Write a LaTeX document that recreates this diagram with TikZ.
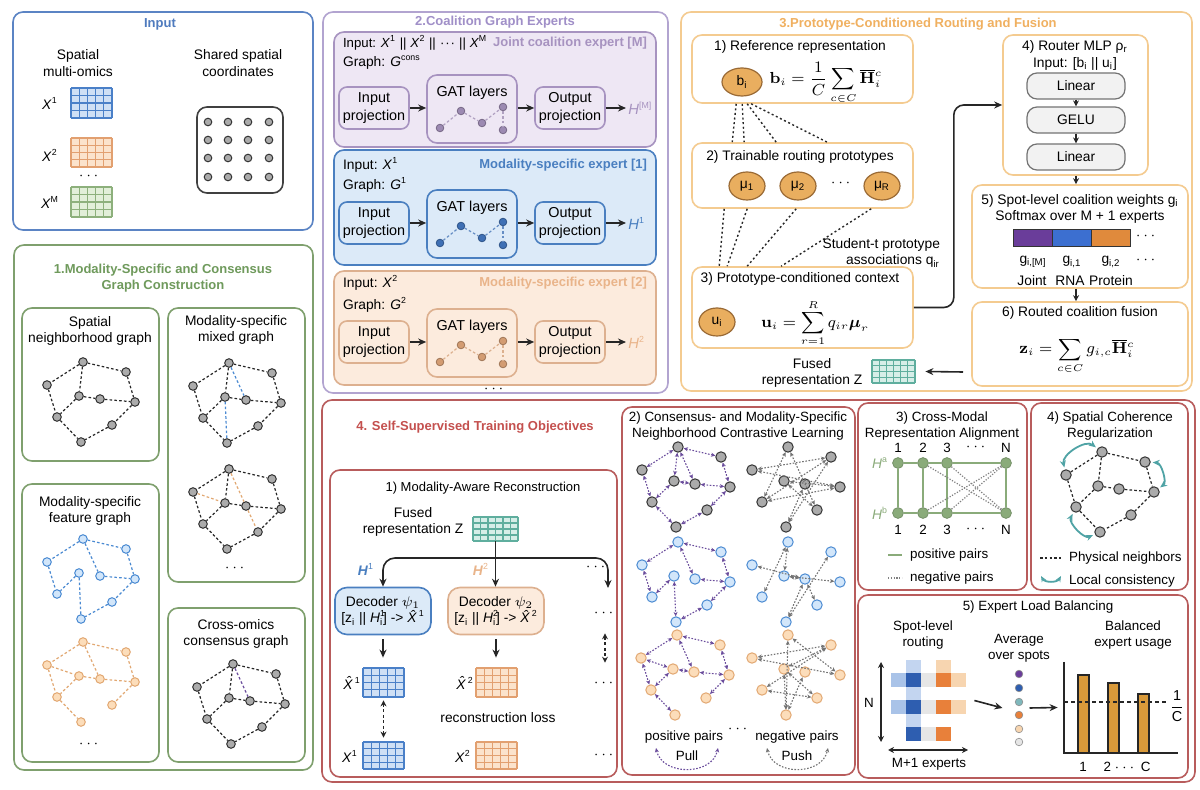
\documentclass[tikz,border=0pt]{standalone}
\usepackage{amsmath,amssymb}
\usepackage[no-math]{fontspec}
\setmainfont{Liberation Sans}
\usetikzlibrary{arrows.meta,calc,fit,shapes.geometric}

\definecolor{cInp}{HTML}{5B84C4}
\definecolor{cInpT}{HTML}{4F7BBE}
\definecolor{cGrn}{HTML}{7FA06E}
\definecolor{cGrnT}{HTML}{6F9A5C}
\definecolor{cPur}{HTML}{B2A4D0}
\definecolor{cPurT}{HTML}{A08FC8}
\definecolor{cJf}{HTML}{EEE7F4}
\definecolor{cJd}{HTML}{A793C0}
\definecolor{cJn}{HTML}{9C8AB2}
\definecolor{cBf}{HTML}{DCEAF8}
\definecolor{cBd}{HTML}{4A7FC0}
\definecolor{cBn}{HTML}{3F70B5}
\definecolor{cOf}{HTML}{FCEBDD}
\definecolor{cOd}{HTML}{DDB08F}
\definecolor{cOt}{HTML}{E9B48A}
\definecolor{cOn}{HTML}{D39C72}
\definecolor{cP3}{HTML}{F4CB90}
\definecolor{cP3T}{HTML}{F0B060}
\definecolor{cCirc}{HTML}{E9AE5F}
\definecolor{cCircD}{HTML}{9A6A35}
\definecolor{cP4}{HTML}{B85C5C}
\definecolor{cP4T}{HTML}{C4504E}
\definecolor{cGrayN}{HTML}{ABABAB}
\definecolor{cBlueN}{HTML}{D2E6FA}
\definecolor{cBlueND}{HTML}{4A8AD2}
\definecolor{cOrN}{HTML}{FCDDBA}
\definecolor{cOrND}{HTML}{E2A872}
\definecolor{gBL}{HTML}{CFE0F5}
\definecolor{gBD}{HTML}{4A80C8}
\definecolor{gOL}{HTML}{FBE3CC}
\definecolor{gOD}{HTML}{E2A070}
\definecolor{gGL}{HTML}{E2EFD9}
\definecolor{gGD}{HTML}{8DB07C}
\definecolor{gTL}{HTML}{D6EEE8}
\definecolor{gTD}{HTML}{5FAE9E}
\definecolor{cPos}{HTML}{6A4C9C}
\definecolor{cAl}{HTML}{8AAB7A}
\definecolor{cTealA}{HTML}{4FA3A5}
\definecolor{cTealD}{HTML}{7FB8BC}
\definecolor{hLB}{HTML}{A9C3E8}
\definecolor{hLB2}{HTML}{C3D5F0}
\definecolor{hDB}{HTML}{2E5EB0}
\definecolor{hLG}{HTML}{E6E6E6}
\definecolor{hOR}{HTML}{E8803A}
\definecolor{hLO}{HTML}{F7D5B0}
\definecolor{cBar}{HTML}{D99A3A}
\definecolor{wP}{HTML}{6A3D9A}
\definecolor{wB}{HTML}{3C6FD0}
\definecolor{wO}{HTML}{E08A3C}

\newcommand{\fs}{\fontsize{6.9}{8.4}\selectfont}
\newcommand{\fsm}{\fontsize{6.7}{8}\selectfont}
\newcommand{\fmath}{\fontsize{7.6}{9}\selectfont}
\newcommand{\sps}[1]{\textsuperscript{\fontsize{4.4}{5}\selectfont #1}}
\newcommand{\mdots}{\kern0.3pt·\kern0.4pt·\kern0.4pt·\kern0.3pt}
\newcommand{\bx}[6]{\node[fit={(#2,#3) (#4,#5)}, inner sep=0pt, #6] (#1) {};}
\newcommand{\dg}[9]{%
  \fill[#8] (#2,#3) rectangle ({#2+#4},{#3+#5});
  \foreach \k in {0,...,#6}{\draw[#9,line width=0.6pt] ({#2+\k*#4/#6},#3) -- ({#2+\k*#4/#6},{#3+#5});}
  \foreach \k in {0,...,#7}{\draw[#9,line width=0.6pt] (#2,{#3+\k*#5/#7}) -- ({#2+#4},{#3+\k*#5/#7});}
  \node[inner sep=0pt,minimum width={#4*0.5pt},minimum height={#5*0.5pt}] (#1) at ({#2+#4/2},{#3+#5/2}) {};}
\newcommand{\gnodes}[4]{%
  \foreach \i/\dx/\dy in {1/0/0,2/43/10,3/-36/23,4/-4/34,5/17/37,6/52/40,7/-26/55,8/29/63,9/-2/80}
    {\node[#4] (#1\i) at ({#2+\dx},{#3+\dy}) {};}}
\newcommand{\gedges}[3]{\foreach \a/\b in {#3}{\draw[#2] (#1\a) -- (#1\b);}}
\newcommand{\expert}[7]{%
  \node[pbox, fill=#3, draw=#4] (#1in) at (374,#2) {Input\\projection};
  \node[rounded corners=5pt, line width=0.8pt, minimum width=45pt, minimum height=34pt, fill=#3, draw=#4] (#1gat) at (472,{#2+1}) {};
  \node[font=\fontsize{7.2}{8.6}\selectfont] (#1gl) at (472,{#2-15}) {GAT layers};
  \node[pbox, fill=#3, draw=#4] (#1out) at (570,#2) {Output\\projection};
  \node[text=#7, anchor=west, inner sep=1pt, font=\fontsize{7.4}{8.6}\selectfont] (#1H) at (626,#2) {#6};
  \foreach \n/\dx/\dy in {a/-32/19,b/-11/2,c/10/14,d/31/-2,e/31/21}
    {\node[circle, inner sep=0pt, minimum size=3.8pt, fill=#5, draw=#5!75!black, line width=0.4pt] (#1\n) at ({472+\dx},{#2+1+\dy}) {};}
  \foreach \a/\b in {a/b,b/c,c/d,d/e}{\draw[#5!80, line width=0.6pt, dash pattern=on 1.3pt off 1.1pt] (#1\a) -- (#1\b);}
  \draw[conn] (#1in.east) -- (#1in.east -| #1gat.west);
  \draw[conn] (#1out.west -| #1gat.east) -- (#1out.west);
  \draw[conn] (#1out.east) -- (#1H.west);
}

\begin{document}
\begin{tikzpicture}[x=0.5pt, y=-0.5pt, font=\fs,
  rb/.style={rounded corners=5pt, line width=0.8pt},
  ttl/.style={font=\fontsize{6.5}{8}\selectfont\bfseries},
  etl/.style={anchor=east, font=\fontsize{6.5}{8}\selectfont\bfseries},
  gnode/.style={circle, draw=black!80, fill=cGrayN, line width=0.5pt, inner sep=0pt, minimum size=4.3pt},
  bnode/.style={circle, draw=cBlueND, fill=cBlueN, line width=0.5pt, inner sep=0pt, minimum size=4.3pt},
  onode/.style={circle, draw=cOrND, fill=cOrN, line width=0.5pt, inner sep=0pt, minimum size=4.3pt},
  kedge/.style={black!85, line width=0.6pt, dash pattern=on 1.3pt off 1.1pt},
  bedge/.style={cBlueND, line width=0.6pt, dash pattern=on 1.3pt off 1.1pt},
  oedge/.style={cOrND, line width=0.6pt, dash pattern=on 1.3pt off 1.1pt},
  pedge/.style={cPos, line width=0.6pt, dash pattern=on 1.3pt off 1.1pt},
  conn/.style={black!85, line width=0.8pt, -{Stealth[length=4pt,width=3.5pt]}},
  sconn/.style={black!85, line width=0.7pt, -{Stealth[length=3pt,width=3pt]}},
  dconn/.style={black!85, line width=0.7pt, dash pattern=on 1.5pt off 1.2pt, {Stealth[length=3pt,width=3pt]}-{Stealth[length=3pt,width=3pt]}},
  pbox/.style={rounded corners=4pt, line width=0.8pt, minimum width=35pt, minimum height=21pt, align=center, inner sep=1pt, font=\fontsize{7.2}{8.6}\selectfont},
  dec/.style={rounded corners=6pt, line width=0.8pt, minimum width=48pt, minimum height=23.5pt, align=center, inner sep=1pt},
  ocirc/.style={ellipse, fill=cCirc, draw=cCircD, line width=0.6pt, minimum width=18pt, minimum height=14pt, inner sep=0pt},
  fml/.style={font=\fmath, inner sep=0pt},
  dline/.style={black!85, line width=0.7pt, dash pattern=on 1pt off 1.3pt},
  mlp/.style={rounded corners=5pt, draw=black!55, fill=black!5, line width=0.6pt, minimum width=49pt, minimum height=13pt, inner sep=0pt},
  wbar/.style={draw=black!80, line width=0.5pt, minimum width=19.5pt, minimum height=8.5pt, inner sep=0pt},
  posA/.style={cPos, line width=0.55pt, dash pattern=on 0.8pt off 0.8pt, {Stealth[length=2.2pt,width=2pt]}-{Stealth[length=2.2pt,width=2pt]}},
  negA/.style={black!55, line width=0.55pt, dash pattern=on 0.8pt off 0.8pt, {Stealth[length=2.2pt,width=2pt]}-{Stealth[length=2.2pt,width=2pt]}},
  alnode/.style={circle, fill=cAl, draw=cAl!85!black, line width=0.4pt, minimum size=5.4pt, inner sep=0pt},
  alline/.style={cAl, line width=1pt},
  negline/.style={black!50, line width=0.6pt, dash pattern=on 0.6pt off 0.8pt},
  tarc/.style={cTealA, line width=0.9pt, {Stealth[length=3.5pt,width=3pt]}-{Stealth[length=3.5pt,width=3pt]}}
]
\fill[white] (0,0) rectangle (1200,790);
\useasboundingbox (0,0) rectangle (1200,790);

%% ---------------- Input ----------------
\bx{inp}{13}{12}{313}{230}{draw=cInp, rb}
\node[ttl, text=cInpT] (inpT) at (160,24) {Input};
\node[align=center] (inpA) at (78,63) {Spatial\\multi-omics};
\node[align=center] (inpB) at (238,63) {Shared spatial\\coordinates};
\node (inX1) at (50,103) {\textit{X}\sps{1}};
\dg{inG1}{71}{88}{41}{30}{5}{4}{gBL}{gBD}
\node (inX2) at (50,155) {\textit{X}\sps{2}};
\dg{inG2}{71}{138}{41}{29}{5}{4}{gOL}{gOD}
\node (inDots) at (90,176) {$\cdots$};
\node (inXM) at (50,202) {\textit{X}\sps{M}};
\dg{inGM}{71}{187}{41}{30}{5}{4}{gGL}{gGD}
\bx{coord}{197}{107}{283}{193}{draw=black!75, rounded corners=5pt, line width=0.8pt}
\foreach \cx [count=\ci] in {208,228,248,269}{
  \foreach \cy [count=\cj] in {122,140,158,177}{
    \node[gnode, minimum size=3.8pt] (cd\ci\cj) at (\cx,\cy) {};}}

%% ---------------- Panel 1 ----------------
\bx{p1}{14}{245}{313}{770}{draw=cGrn, rb}
\node[ttl, text=cGrnT, align=center] (p1T) at (163,278) {1.Modality-Specific and Consensus\\Graph Construction};
\bx{sA}{22}{308}{159}{461}{draw=cGrn, rb}
\node[align=center] (sAT) at (90,331) {Spatial\\neighborhood graph};
\gnodes{A}{83}{362}{gnode}
\gedges{A}{kedge}{1/2,1/3,1/4,2/6,3/7,4/5,5/6,4/7,6/8,8/9,7/9}

\bx{sB}{168}{308}{305}{582}{draw=cGrn, rb}
\node[align=center] (sBT) at (236,330) {Modality-specific\\mixed graph};
\gnodes{B}{229}{363}{gnode}
\gedges{B}{kedge}{1/2,1/3,1/4,2/6,3/7,4/5,5/6,4/7,6/8,8/9,7/9}
\gedges{B}{bedge}{1/5,4/9}
\gnodes{Bo}{229}{469}{gnode}
\gedges{Bo}{kedge}{1/2,1/3,1/4,2/6,3/7,4/5,5/6,4/7,6/8,8/9,7/9}
\gedges{Bo}{oedge}{3/4,1/5,5/8}
\node (sBd) at (236,568) {$\cdots$};

\bx{sC}{22}{484}{159}{762}{draw=cGrn, rb}
\node[align=center] (sCT) at (90,511) {Modality-specific\\feature graph};
\gnodes{Cb}{83}{539}{bnode}
\gedges{Cb}{bedge}{1/2,1/3,1/5,2/6,5/6,3/7,4/7,4/9,6/8,8/9}
\gnodes{Co}{83}{642}{onode}
\gedges{Co}{oedge}{1/2,1/3,1/5,2/6,3/4,4/5,5/6,3/7,4/7,7/9,6/8}
\node (sCd) at (90,744) {$\cdots$};

\bx{sD}{168}{608}{305}{762}{draw=cGrn, rb}
\node[align=center] (sDT) at (236,634) {Cross-omics\\consensus graph};
\gnodes{D}{233}{664}{gnode}
\gedges{D}{kedge}{1/2,1/3,1/4,2/6,3/7,4/5,5/6,4/7,6/8,8/9,7/9}
\gedges{D}{pedge}{1/5}

%% ---------------- Panel 2 ----------------
\bx{p2}{323}{12}{668}{393}{draw=cPur, rb}
\node[ttl, text=cPurT] (p2T) at (495,22) {2.Coalition Graph Experts};
\bx{jbox}{334}{32}{656}{147}{draw=cJd, fill=cJf, rb}
\node[anchor=west, font=\fontsize{6.6}{8}\selectfont] (jbI) at (336,43) {Input: \textit{X}\sps{1} || \textit{X}\sps{2} || \mdots{} || \textit{X}\sps{M}};
\node[etl, text=cJd] (jbT) at (654,43) {Joint coalition expert [M]};
\node[anchor=west] (jbG) at (336,63) {Graph: \textit{G}\sps{cons}};
\expert{j}{108}{cJf}{cJd}{cJn}{\textit{H}\sps{[M]}}{cJd}

\bx{bbox}{334}{150}{656}{265}{draw=cBd, fill=cBf, rb}
\node[anchor=west] (bbI) at (336,165) {Input: \textit{X}\sps{1}};
\node[etl, text=cBd] (bbT) at (654,165) {Modality-specific expert [1]};
\node[anchor=west] (bbG) at (336,185) {Graph: \textit{G}\sps{1}};
\expert{b}{223}{cBf}{cBd}{cBn}{\textit{H}\sps{1}}{cBd}

\bx{obox}{334}{271}{656}{385}{draw=cOd, fill=cOf, rb}
\node[anchor=west] (obI) at (336,283) {Input: \textit{X}\sps{2}};
\node[etl, text=cOt] (obT) at (654,283) {Modality-specific expert [2]};
\node[anchor=west] (obG) at (336,305) {Graph: \textit{G}\sps{2}};
\expert{o}{342}{cOf}{cOd}{cOn}{\textit{H}\sps{2}}{cOt}
\node (p2d) at (495,389) {$\cdots$};

%% ---------------- Panel 3 ----------------
\bx{p3}{681}{12}{1192}{391}{draw=cP3, rb}
\node[ttl, text=cP3T] (p3T) at (918,24) {3.Prototype-Conditioned Routing and Fusion};
\bx{r1}{692}{35}{913}{103}{draw=cP3, rb}
\node (r1T) at (800,47) {1) Reference representation};
\node[ocirc, minimum width=20pt] (bi) at (742,82) {b\textsubscript{i}};
\node[fml] (biF) at (826,83) {$\mathbf{b}_i=\dfrac{1}{C}\displaystyle\sum_{c\in C}\overline{\mathbf{H}}{}_i^{c}$};
\bx{r2}{692}{143}{913}{208}{draw=cP3, rb}
\node (r2T) at (800,157) {2) Trainable routing prototypes};
\node[ocirc] (mu1) at (747,186) {μ\textsubscript{1}};
\node[ocirc] (mu2) at (798,186) {μ\textsubscript{2}};
\node (mud) at (842,183) {$\cdots$};
\node[ocirc] (muR) at (882,186) {μ\textsubscript{R}};
\bx{r3}{692}{267}{913}{348}{draw=cP3, rb}
\node (r3T) at (800,279) {3) Prototype-conditioned context};
\node[ocirc] (ui) at (717,322) {u\textsubscript{i}};
\node[fml] (uiF) at (815,323) {$\mathbf{u}_i=\displaystyle\sum_{r=1}^{R} q_{ir}\boldsymbol{\mu}_r$};
\foreach \s/\t in {45/41,51/53,56/85,60/136}
  {\draw[dline] ([xshift=\s*0.5pt]r1.south west) -- ([xshift=\t*0.5pt]r2.north west);}
\foreach \s/\t in {33/28,56/36,105/56,180/90}
  {\draw[dline] ([xshift=\s*0.5pt]r2.south west) -- ([xshift=\t*0.5pt]r3.north west);}
\node[align=right, anchor=east] (stud) at (947,253) {Student-t prototype\\associations q\textsubscript{ir}};

\bx{r4}{1003}{35}{1148}{175}{draw=cP3, rb}
\node (r4T) at (1075,47) {4) Router MLP ρ\textsubscript{r}};
\node (r4I) at (1075,64) {Input: [b\textsubscript{i} || u\textsubscript{i}]};
\node[mlp] (l1) at (1076,86) {Linear};
\node[mlp] (gelu) at (1076,120) {GELU};
\node[mlp] (l2) at (1076,157) {Linear};
\draw[sconn] (l1) -- (gelu);
\draw[sconn] (gelu) -- (l2);
\draw[conn, rounded corners=5pt] (r3.east) -- ++(40,0) |- (r4.west);

\bx{r5}{972}{185}{1188}{288}{draw=cP3, rb}
\draw[sconn] (r4.south -| l2) -- (r5.north -| l2);
\node (r5T) at (1080,201) {5) Spot-level coalition weights g\textsubscript{i}};
\node (r5S) at (1080,217) {Softmax over M + 1 experts};
\node[wbar, fill=wP] (wbJ) at (1033,238.5) {};
\node[wbar, fill=wB] (wbR) at (1072,238.5) {};
\node[wbar, fill=wO] (wbP) at (1111,238.5) {};
\node (wbd) at (1147,236) {$\cdots$};
\node (gM) at (1033,262) {g\textsubscript{i,[M]}};
\node (g1) at (1072,262) {g\textsubscript{i,1}};
\node (g2) at (1111,262) {g\textsubscript{i,2}};
\node (gd) at (1147,260) {$\cdots$};
\node (jl) at (1032,281) {Joint};
\node (rl) at (1070,281) {RNA};
\node (pl) at (1111,281) {Protein};

\bx{r6}{972}{302}{1188}{386}{draw=cP3, rb}
\draw[sconn] (r5.south -| l2) -- (r6.north -| l2);
\node (r6T) at (1080,313) {6) Routed coalition fusion};
\node[fml] (r6F) at (1077,356) {$\mathbf{z}_i=\displaystyle\sum_{c\in C} g_{i,c}\overline{\mathbf{H}}{}_i^{c}$};
\node[align=center] (fzT) at (812,373) {Fused\\representation Z};
\dg{fz}{872}{360}{43}{23}{6}{4}{gTL}{gTD}
\coordinate (fzs) at (963,372);
\draw[conn] (fzs) -- ([xshift=5pt]fz.east);

%% ---------------- Panel 4 ----------------
\bx{p4}{322}{400}{1195}{782}{draw=cP4, rb}
\node[ttl, text=cP4T] (p4T) at (475,427) {4. Self-Supervised Training Objectives};

% 4.1
\bx{q1}{330}{470}{617}{777}{draw=cP4, rb}
\node[font=\fontsize{6.5}{8}\selectfont] (q1T) at (483,488) {1) Modality-Aware Reconstruction};
\node[align=center] (q1F) at (413,522) {Fused\\representation Z};
\dg{fz2}{473}{517}{45}{24}{6}{4}{gTL}{gTD}
\node[dec, fill=cBf, draw=cBd] (d1) at (383,611) {Decoder $\psi_1$\\{}[z\textsubscript{i} || \textit{H}\rlap{\sps{1}}\textsubscript{i}] -> \textit{\^X}\sps{1}};
\node[dec, fill=cOf, draw=cOd] (d2) at (496,611) {Decoder $\psi_2$\\{}[z\textsubscript{i} || \textit{H}\rlap{\sps{2}}\textsubscript{i}] -> \textit{\^X}\sps{2}};
\coordinate (jn) at (496,558);
\coordinate (d3) at (608,588);
\draw[conn] (fz2.south) -- (fz2.south |- d2.north);
\draw[conn, rounded corners=6pt] (jn) -| (d1.north);
\draw[conn, rounded corners=6pt] (jn) -| (d3);
\node[text=cBd] (h1l) at (366,569) {\textbf{\textit{H}}\sps{1}};
\node[text=cOt] (h2l) at (481,569) {\textbf{\textit{H}}\sps{2}};
\node (q1d1) at (597,567) {$\cdots$};
\node (q1d2) at (605,613) {$\cdots$};
\node (xh1l) at (352,683) {\textit{\^X}\sps{1}};
\dg{xh1}{363}{668}{41}{29}{5}{4}{gBL}{gBD}
\node (xh2l) at (465,683) {\textit{\^X}\sps{2}};
\dg{xh2}{476}{668}{41}{29}{5}{4}{gOL}{gOD}
\node (q1d3) at (605,683) {$\cdots$};
\draw[conn, shorten <=2pt, shorten >=5pt] (d1.south) -- (d1.south |- xh1.north);
\draw[conn, shorten <=2pt, shorten >=5pt] (d2.south) -- (d2.south |- xh2.north);
\node (rloss) at (498,718) {reconstruction loss};
\node (x1l) at (350,756) {\textit{X}\sps{1}};
\dg{x1g}{363}{742}{41}{27}{5}{4}{gBL}{gBD}
\node (x2l) at (463,756) {\textit{X}\sps{2}};
\dg{x2g}{476}{742}{41}{27}{5}{4}{gOL}{gOD}
\node (q1d4) at (605,755) {$\cdots$};
\draw[dconn, shorten <=1.5pt, shorten >=2pt] (xh1.south) -- (x1g.north);
\draw[dconn, shorten <=5pt, shorten >=5pt] (q1d2) -- (q1d3);

% 4.2
\bx{q2}{622}{407}{855}{775}{draw=cP4, rb}
\node[align=center, font=\fsm] (q2T) at (738,426) {2) Consensus- and Modality-Specific\\Neighborhood Contrastive Learning};
\gnodes{Pk}{678}{447}{gnode, minimum size=5.2pt}
\gedges{Pk}{posA}{1/2,1/3,1/4,1/5,2/6,3/7,4/5,5/6,4/7,6/8,8/9,7/9}
\gnodes{Pb}{678}{542}{bnode, minimum size=5.2pt}
\gedges{Pb}{posA}{1/2,1/3,1/5,2/6,5/6,3/7,4/7,4/9,6/8,8/9}
\gnodes{Po}{677}{635}{onode, minimum size=5.2pt}
\gedges{Po}{posA}{1/2,1/3,1/5,2/6,3/4,4/5,5/6,3/7,4/7,7/9,6/8}
\gnodes{Nk}{788}{447}{gnode, minimum size=5.2pt}
\gedges{Nk}{negA}{1/7,1/8,2/3,2/7,2/9,3/6,4/8,5/9,6/7,4/6}
\gnodes{Nb}{788}{542}{bnode, minimum size=5.2pt}
\gedges{Nb}{negA}{1/4,1/7,2/9,3/5,4/6,5/8,5/9,4/5}
\gnodes{No}{788}{635}{onode, minimum size=5.2pt}
\gedges{No}{negA}{1/6,1/9,2/3,2/7,3/6,4/8,4/9,5/9,7/8,2/4}
\node[font=\fsm] (pp) at (684,737) {positive pairs};
\node (ppd) at (739,729) {$\cdots$};
\node[font=\fsm] (np) at (797,737) {negative pairs};
\node[font=\fsm] (pull) at (687,756) {Pull};
\node[font=\fsm] (push) at (797,756) {Push};
\coordinate (pa1) at (656,748); \coordinate (pa2) at (718,748);
\draw[posA] (pa1) .. controls (662,776) and (712,776) .. (pa2);
\coordinate (na1) at (767,748); \coordinate (na2) at (828,748);
\draw[negA] (na1) .. controls (773,776) and (822,776) .. (na2);

% 4.3
\bx{q3}{858}{403}{1027}{590}{draw=cP4, rb}
\node[align=center, font=\fsm] (q3T) at (942,426) {3) Cross-Modal\\Representation Alignment};
\foreach \x/\l [count=\n] in {898/1,923/2,947/3,1006/N}{
  \node[font=\fsm] (ta\n) at (\x,448) {\l};
  \node[font=\fsm] (tb\n) at (\x,530) {\l};
  \node[alnode] (a\n) at (\x,463) {};
  \node[alnode] (b\n) at (\x,513) {};}
\node (tad) at (977,447) {$\cdots$};
\node (tbd) at (977,529) {$\cdots$};
\draw[alline] (a1) -- (a2); \draw[alline] (a2) -- (a3); \draw[alline] (a3) -- (a4);
\draw[alline] (b1) -- (b2); \draw[alline] (b2) -- (b3); \draw[alline] (b3) -- (b4);
\foreach \n in {1,2,3,4}{\draw[alline] (a\n) -- (b\n);}
\draw[negline] (a2) -- (b4); \draw[negline] (a3) -- (b4);
\draw[negline] (a4) -- (b2); \draw[negline] (a4) -- (b3);
\node[text=cAl] (Ha) at (880,463) {\textit{H}\sps{a}};
\node[text=cAl] (Hb) at (880,513) {\textit{H}\sps{b}};
\coordinate (lg1a) at (888,555); \coordinate (lg1b) at (902,555);
\draw[alline, line width=0.8pt] (lg1a) -- (lg1b);
\node[anchor=west, font=\fsm] (lg1) at (903,555) {positive pairs};
\coordinate (lg2a) at (888,578); \coordinate (lg2b) at (902,578);
\draw[negline] (lg2a) -- (lg2b);
\node[anchor=west, font=\fsm] (lg2) at (903,578) {negative pairs};

% 4.4
\bx{q4}{1031}{403}{1188}{590}{draw=cP4, rb}
\node[align=center, font=\fsm] (q4T) at (1110,426) {4) Spatial Coherence\\Regularization};
\gnodes{S}{1102}{452}{gnode, minimum size=5.2pt}
\gedges{S}{kedge}{1/2,1/3,1/4,2/6,3/7,4/5,5/6,4/7,6/8,8/9,7/9}
\draw[tarc, shorten <=1pt, shorten >=1pt] (S3) to[bend left=70] (S1);
\draw[tarc, shorten <=1pt, shorten >=1pt] (S2) to[bend left=70] (S6);
\draw[tarc, shorten <=1pt, shorten >=1pt] (S7) to[bend right=70] (S9);
\coordinate (l4a) at (1040,558); \coordinate (l4b) at (1061,558);
\draw[kedge] (l4a) -- (l4b);
\node[anchor=west, font=\fsm] (l4t1) at (1062,558) {Physical neighbors};
\coordinate (l4c) at (1041,576); \coordinate (l4d) at (1061,576);
\draw[tarc, {Stealth[length=3pt,width=2.5pt]}-{Stealth[length=3pt,width=2.5pt]}] (l4c) to[bend right=60] (l4d);
\node[anchor=west, font=\fsm] (l4t2) at (1062,581) {Local consistency};

% 4.5
\bx{q5}{858}{595}{1188}{778}{draw=cP4, rb}
\node[font=\fsm] (q5T) at (1038,607) {5) Expert Load Balancing};
\node[align=center, font=\fsm] (q5a) at (923,635) {Spot-level\\routing};
\node[align=center, font=\fsm] (q5b) at (1019,648) {Average\\over spots};
\node[align=center, font=\fsm] (q5c) at (1133,635) {Balanced\\expert usage};
\foreach \c/\r/\col in {1/0/hLB2,3/0/hLO,0/1/hLB,1/1/hDB,2/1/hLG,3/1/hOR,4/1/hLO,1/2/hLB2,0/3/hLB,1/3/hDB,2/3/hLG,3/3/hOR,4/3/hLO,1/4/hLB2,1/5/hDB,2/5/hLG,3/5/hOR}
  {\fill[\col] ({891+15*\c},{660+13.5*\r}) rectangle ++(15,13.5);}
\node[fit={(891,660) (966,741)}, inner sep=0pt] (heat) {};
\coordinate (nA) at (881,662); \coordinate (nB) at (881,742);
\draw[black!85, line width=0.8pt, {Stealth[length=3pt,width=3pt]}-{Stealth[length=3pt,width=3pt]}] (nA) -- (nB);
\node[font=\fsm] (Nl) at (869,703) {N};
\coordinate (mA) at (888,750); \coordinate (mB) at (968,750);
\draw[black!85, line width=0.8pt, {Stealth[length=3pt,width=3pt]}-{Stealth[length=3pt,width=3pt]}] (mA) -- (mB);
\node[font=\fsm] (Ml) at (929,764) {M+1 experts};
\foreach \y/\c [count=\n] in {674/wP,688/hDB,702/cTealD,715/hOR,729/hLO,742/hLG}
  {\node[circle, fill=\c, draw=black!45, minimum size=3.8pt, inner sep=0pt, line width=0.3pt] (av\n) at (1019,\y) {};}
\node[fit=(av1)(av6), inner sep=1pt] (avc) {};
\draw[conn] ([xshift=4pt]heat.east) -- ([xshift=-5pt]avc.west);
\coordinate (ax1) at (1064,662); \coordinate (ax0) at (1064,753); \coordinate (ax2) at (1178,753);
\draw[black!85, line width=0.8pt] (ax1) -- (ax0) -- (ax2);
\node[fit={(1064,662) (1178,753)}, inner sep=0pt] (chart) {};
\draw[conn] ([xshift=2pt]avc.east) -- ([xshift=-3pt]chart.west);
\draw[fill=cBar, draw=black!85, line width=0.7pt] (1078,675) rectangle (1089,753);
\draw[fill=cBar, draw=black!85, line width=0.7pt] (1108,683) rectangle (1119,753);
\draw[fill=cBar, draw=black!85, line width=0.7pt] (1138,694) rectangle (1149,753);
\coordinate (da) at (1064,702); \coordinate (db) at (1167,702);
\draw[black!85, line width=0.7pt, dash pattern=on 2pt off 1.5pt] (da) -- (db);
\node[font=\fontsize{7.2}{8}\selectfont, inner sep=0pt] (fracC) at (1177,706) {$\dfrac{\text{1}}{\text{C}}$};
\node[font=\fsm] (c1) at (1083,767) {1};
\node[font=\fsm] (c2) at (1127,767) {2 $\cdots$ C};
\end{tikzpicture}
\end{document}
